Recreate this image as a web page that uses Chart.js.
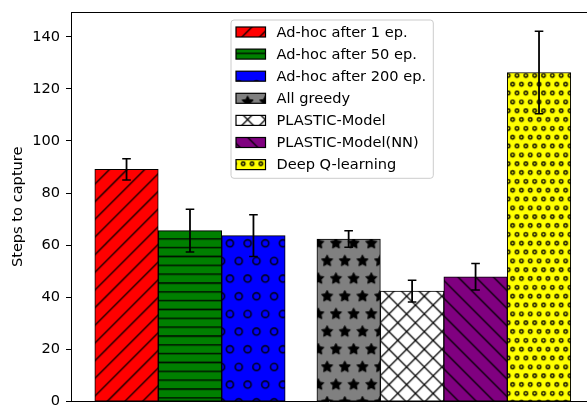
<!DOCTYPE html>
<html>
<head>
<meta charset="utf-8">
<script src="https://cdn.jsdelivr.net/npm/chart.js@4.4.0/dist/chart.umd.min.js"></script>
<style>
  html, body { margin: 0; padding: 0; background: #fff; overflow: hidden; }
  #wrap { width: 587px; height: 405px; }
</style>
</head>
<body>
<div id="wrap"><canvas id="chart" width="587" height="405"></canvas></div>
<script>
// bar data
const labels = ['Ad-hoc after 1 ep.', 'Ad-hoc after 50 ep.', 'Ad-hoc after 200 ep.', 'All greedy',
  'PLASTIC-Model', 'PLASTIC-Model(NN)', 'Deep Q-learning'];
const xPositions = [0, 1, 2, 3.5, 4.5, 5.5, 6.5];
const steps = [89.1, 65.6, 63.7, 62.4, 42.4, 47.9, 126.3];
const stepErr = [4.1, 8.2, 8.0, 3.2, 4.2, 5.1, 15.8];
const faceColors = ['#ff0000', '#008000', '#0000ff', '#808080', '#ffffff', '#800080', '#ffff00'];
const hatches = ['//', '--', 'o', '*', 'xx', '\\\\', 'oo'];
const yTicks = [0, 20, 40, 60, 80, 100, 120, 140];

Chart.defaults.font.family = '"DejaVu Sans", sans-serif';
Chart.defaults.font.size = 14.6;
Chart.defaults.color = '#000';

const canvas = document.getElementById('chart');
const ctx = canvas.getContext('2d');

// hatch tiles, matplotlib style (one hatch unit ~106px)
const TILE = 106;
const HATCH_X0 = 0.3, HATCH_Y0 = 31.3;

function dotGrid(g, pp, drawOne) {
  const n = Math.round(TILE / pp);
  for (let i = -1; i <= n + 1; i++) {
    const offs = Math.abs(i % 2) === 1 ? pp / 2 : 0;
    for (let j = -1; j <= n + 1; j++) drawOne(j * pp + offs, i * pp);
  }
}

function makeHatch(color, hatch) {
  const c = document.createElement('canvas');
  c.width = c.height = TILE;
  const g = c.getContext('2d');
  g.fillStyle = color;
  g.fillRect(0, 0, TILE, TILE);
  g.strokeStyle = '#000';
  g.fillStyle = '#000';
  g.lineWidth = 1.3;
  const p = TILE / 6;
  if (hatch === '//' || hatch === 'xx') {
    g.beginPath();
    for (let k = -1; k <= 13; k++) {
      const c0 = k * p;
      g.moveTo(c0 + 3, -3);
      g.lineTo(c0 - TILE - 3, TILE + 3);
    }
    g.stroke();
  }
  if (hatch === '\\\\' || hatch === 'xx') {
    g.beginPath();
    for (let k = -7; k <= 7; k++) {
      const c0 = k * p;
      g.moveTo(c0 - 3, -3);
      g.lineTo(c0 + TILE + 3, TILE + 3);
    }
    g.stroke();
  }
  if (hatch === '--') {
    const p2 = TILE / 12;
    g.beginPath();
    for (let k = 0; k < 12; k++) {
      const y = (k + 0.5) * p2;
      g.moveTo(-2, y);
      g.lineTo(TILE + 2, y);
    }
    g.stroke();
  }
  if (hatch === 'o' || hatch === 'oo') {
    const pp = hatch === 'o' ? p : p / 2;
    g.lineWidth = 1.4;
    dotGrid(g, pp, (x, y) => {
      g.beginPath();
      g.arc(x, y, 0.2 * pp, 0, Math.PI * 2);
      g.stroke();
    });
  }
  if (hatch === '*') {
    g.lineWidth = 1;
    dotGrid(g, p, (x, y) => {
      const r = p / 3;
      g.beginPath();
      for (let k = 0; k < 10; k++) {
        const a = Math.PI / 2 + k * Math.PI / 5;
        const rr = k % 2 ? r * 0.5 : r;
        const px = x + rr * Math.cos(a), py = y - rr * Math.sin(a);
        k ? g.lineTo(px, py) : g.moveTo(px, py);
      }
      g.closePath();
      g.fill();
      g.stroke();
    });
  }
  const pat = ctx.createPattern(c, 'repeat');
  pat.setTransform(new DOMMatrix().translate(HATCH_X0, HATCH_Y0));
  return pat;
}

const errorBars = {
  id: 'errorBars',
  afterDatasetsDraw(chart) {
    const c = chart.ctx, y = chart.scales.y;
    c.save();
    c.strokeStyle = '#000';
    chart.data.datasets.forEach((ds, i) => {
      const bar = chart.getDatasetMeta(i).data[0];
      const hi = y.getPixelForValue(steps[i] + stepErr[i]);
      const lo = y.getPixelForValue(steps[i] - stepErr[i]);
      c.lineWidth = 1.8;
      c.beginPath();
      c.moveTo(bar.x, hi);
      c.lineTo(bar.x, lo);
      c.stroke();
      c.lineWidth = 1.5;
      c.beginPath();
      c.moveTo(bar.x - 4.3, hi); c.lineTo(bar.x + 4.3, hi);
      c.moveTo(bar.x - 4.3, lo); c.lineTo(bar.x + 4.3, lo);
      c.stroke();
    });
    c.restore();
  }
};

// top spine + boxed legend inside the axes
const frameAndLegend = {
  id: 'frameAndLegend',
  afterDraw(chart) {
    const c = chart.ctx, a = chart.chartArea;
    c.save();
    c.strokeStyle = '#000';
    c.lineWidth = 1;
    c.beginPath();
    c.moveTo(a.left, Math.round(a.top) + 0.5);
    c.lineTo(a.right, Math.round(a.top) + 0.5);
    c.stroke();

    c.beginPath();
    c.roundRect(231, 20, 202.3, 158.3, 3);
    c.fillStyle = 'rgba(255,255,255,0.8)';
    c.fill();
    c.strokeStyle = '#cccccc';
    c.stroke();

    c.font = '14.6px "DejaVu Sans"';
    c.textBaseline = 'middle';
    chart.data.datasets.forEach((ds, i) => {
      const cy = 32 + i * 22.1;
      c.fillStyle = ds.backgroundColor;
      c.fillRect(236, cy - 5, 29.5, 10);
      c.strokeStyle = '#000';
      c.lineWidth = 1.2;
      c.strokeRect(236, cy - 5, 29.5, 10);
      c.fillStyle = '#000';
      c.fillText(ds.label, 276.5, cy + 1);
    });
    c.restore();
  }
};

new Chart(ctx, {
  type: 'bar',
  data: {
    datasets: labels.map((lab, i) => ({
      label: lab,
      data: [{ x: xPositions[i], y: steps[i] }],
      backgroundColor: makeHatch(faceColors[i], hatches[i]),
      borderColor: '#000',
      borderWidth: 1,
      borderSkipped: false
    }))
  },
  options: {
    responsive: false,
    animation: false,
    devicePixelRatio: 1,
    layout: { padding: { left: 0, right: 0, top: 12, bottom: 3.4 } },
    datasets: { bar: { grouped: false, barPercentage: 1, categoryPercentage: 1 } },
    plugins: { legend: { display: false }, tooltip: { enabled: false } },
    scales: {
      x: {
        type: 'linear', offset: false, min: -0.875, max: 7.256,
        grid: { display: false, drawTicks: false },
        ticks: { display: false },
        border: { display: true, color: '#000', width: 1 },
        afterBuildTicks: s => { s.ticks = xPositions.map(v => ({ value: v })); }
      },
      y: {
        min: 0, max: 149.5,
        ticks: { color: '#000', padding: 6 },
        grid: { drawOnChartArea: false, drawTicks: true, tickLength: 5, tickColor: '#000', color: '#000' },
        border: { display: true, color: '#000', width: 1 },
        title: { display: true, text: 'Steps to capture', color: '#000', padding: { top: 9.5, bottom: 0 } },
        afterBuildTicks: s => { s.ticks = yTicks.map(v => ({ value: v })); },
        afterFit: s => { s.width = 71; s.paddingTop = 0; s.paddingBottom = 0; }
      }
    }
  },
  plugins: [errorBars, frameAndLegend]
});
</script>
</body>
</html>
